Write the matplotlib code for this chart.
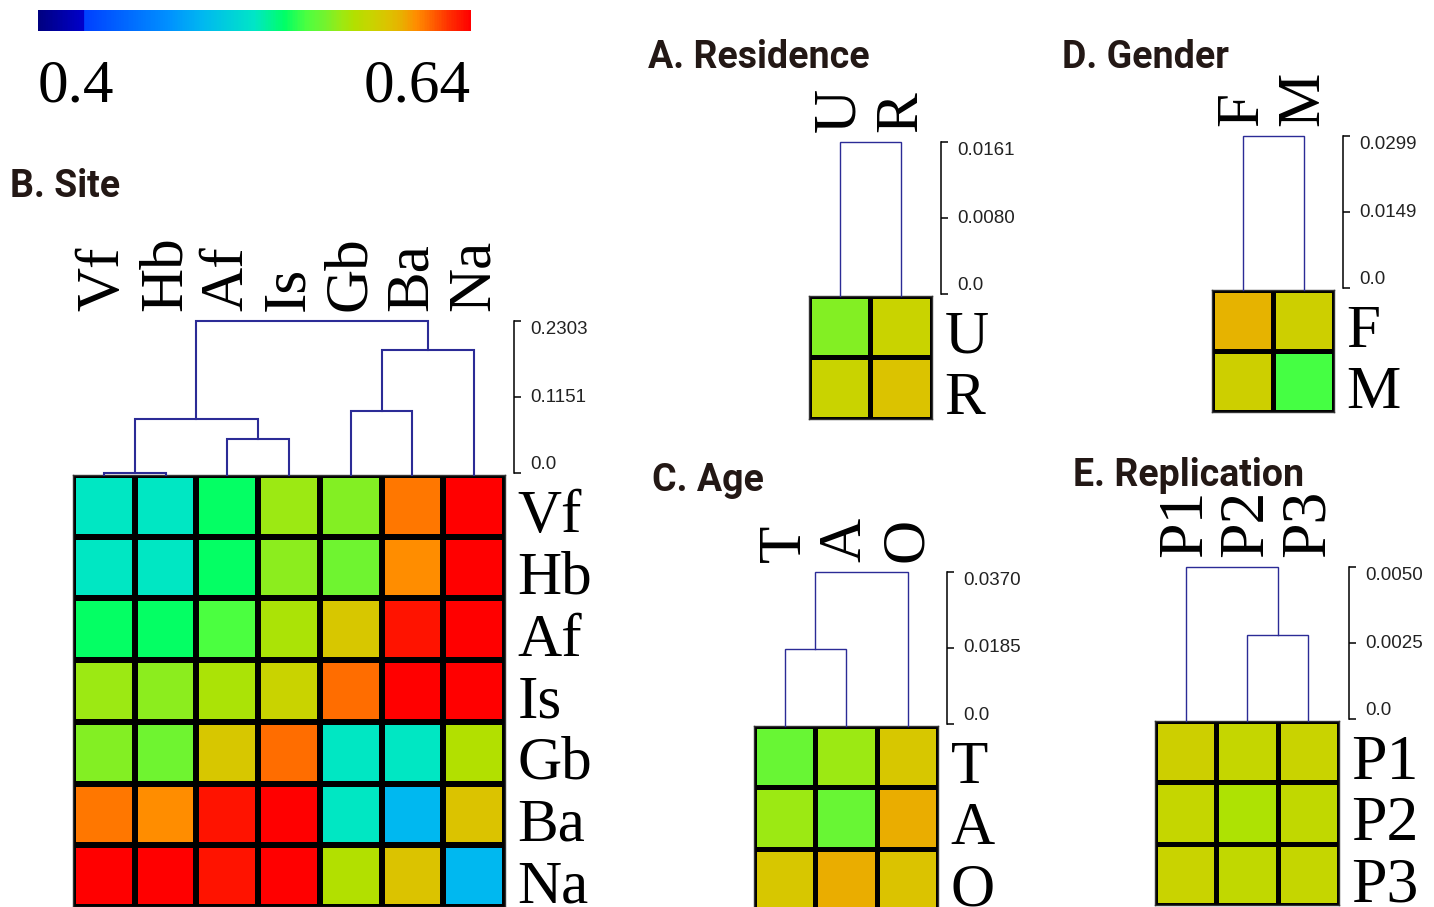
"""
Similarity heatmaps with dendrograms (site, residence, gender, age, replication)
"""

import numpy as np
import matplotlib
matplotlib.use("Agg")
import matplotlib.pyplot as plt
from matplotlib.colors import LinearSegmentedColormap, Normalize
from matplotlib.cm import ScalarMappable
from matplotlib.transforms import ScaledTranslation

W, H = 1434, 907

# ---- data ----
site_labels = ["Vf", "Hb", "Af", "Is", "Gb", "Ba", "Na"]
site_values = [
    [0.520, 0.520, 0.537, 0.568, 0.563, 0.614, 0.640],
    [0.520, 0.520, 0.537, 0.565, 0.558, 0.610, 0.640],
    [0.537, 0.537, 0.549, 0.573, 0.592, 0.635, 0.640],
    [0.568, 0.565, 0.573, 0.585, 0.616, 0.640, 0.640],
    [0.563, 0.558, 0.592, 0.616, 0.520, 0.520, 0.575],
    [0.614, 0.610, 0.635, 0.640, 0.520, 0.491, 0.594],
    [0.640, 0.640, 0.635, 0.640, 0.575, 0.594, 0.491],
]
# merges: (node a, node b, height); leaves are 0..n-1, new nodes numbered after
site_merges = [(0, 1, 0.0035), (2, 3, 0.0538), (7, 8, 0.0843),
               (4, 5, 0.0961), (10, 6, 0.1876), (9, 11, 0.2303)]
site_ticks = [0.0, 0.1151, 0.2303]
site_ticklabels = ["0.0", "0.1151", "0.2303"]

res_labels = ["U", "R"]
res_values = [[0.563, 0.585],
              [0.585, 0.594]]
res_merges = [(0, 1, 0.0161)]
res_ticks = [0.0, 0.0080, 0.0161]
res_ticklabels = ["0.0", "0.0080", "0.0161"]

gen_labels = ["F", "M"]
gen_values = [[0.600, 0.587],
              [0.587, 0.548]]
gen_merges = [(0, 1, 0.0299)]
gen_ticks = [0.0, 0.0149, 0.0299]
gen_ticklabels = ["0.0", "0.0149", "0.0299"]

age_labels = ["T", "A", "O"]
age_values = [[0.556, 0.568, 0.592],
              [0.568, 0.556, 0.602],
              [0.592, 0.602, 0.594]]
age_merges = [(0, 1, 0.0185), (3, 2, 0.0370)]
age_ticks = [0.0, 0.0185, 0.0370]
age_ticklabels = ["0.0", "0.0185", "0.0370"]

rep_labels = ["P1", "P2", "P3"]
rep_values = [[0.587, 0.583, 0.585],
              [0.583, 0.574, 0.581],
              [0.585, 0.581, 0.583]]
rep_merges = [(1, 2, 0.00278), (0, 3, 0.0050)]
rep_ticks = [0.0, 0.0025, 0.0050]
rep_ticklabels = ["0.0", "0.0025", "0.0050"]

vmin, vmax = 0.4, 0.64

# ---- colour scale ----
stops = [(0.0, "#000080"), (0.105, "#0000cc"), (0.106, "#0040ff"),
         (0.30, "#0090ff"), (0.38, "#00b8f0"), (0.50, "#00e6c6"),
         (0.57, "#00ff66"), (0.62, "#4cff40"), (0.66, "#70f430"),
         (0.70, "#9aea14"), (0.73, "#b2e000"), (0.77, "#c8d400"),
         (0.81, "#dcc200"), (0.84, "#e8b000"), (0.875, "#ff8c00"),
         (0.90, "#ff7000"), (0.95, "#ff3000"), (1.0, "#ff0000")]
cmap = LinearSegmentedColormap.from_list("sim", stops)
norm = Normalize(vmin, vmax)

fig = plt.figure(figsize=(W / 100, H / 100), dpi=100)

SERIF = "Liberation Serif"
SANS = "Liberation Sans"
TITLE_FONT = "Roboto"
LINE_C = "#2b2b96"


def add_px(x0, y0, x1, y1):
    return fig.add_axes([x0 / W, 1 - y1 / H, (x1 - x0) / W, (y1 - y0) / H])


def panel(labels, values, merges, ticks, ticklabels, hx, hy, cell, dtop, bx,
          lw_grid=2.5, lw_tree=1.0, label_size=44):
    n = len(labels)
    # heatmap
    ax = add_px(hx, hy, hx + n * cell, hy + n * cell)
    ax.pcolormesh(np.array(values), cmap=cmap, norm=norm,
                  edgecolors="k", linewidth=lw_grid)
    ax.set_xlim(0, n)
    ax.set_ylim(n, 0)
    ax.set_xticks([])
    ax.yaxis.tick_right()
    ax.set_yticks(np.arange(n) + 0.5)
    ax.set_yticklabels(labels, family=SERIF, fontsize=label_size)
    ax.tick_params(axis="y", length=0, pad=9)
    down = ScaledTranslation(0, -5 / 100, fig.dpi_scale_trans)
    for t in ax.yaxis.get_major_ticks():
        t.label2.set_transform(t.label2.get_transform() + down)
    for s in ax.spines.values():
        s.set_linewidth(1.0)
        s.set_color("#333333")

    # dendrogram
    dx = add_px(hx, dtop, hx + n * cell, hy)
    pos = {i: (i + 0.5, 0.0) for i in range(n)}
    k = n
    for a, b, h in merges:
        xa, ha = pos[a]
        xb, hb = pos[b]
        dx.plot([xa, xa, xb, xb], [ha, h, h, hb], color=LINE_C, lw=lw_tree,
                solid_joinstyle="miter", clip_on=False)
        pos[k] = ((xa + xb) / 2, h)
        k += 1
    dx.set_xlim(0, n)
    dx.set_ylim(0, ticks[-1])
    dx.xaxis.tick_top()
    dx.set_xticks(np.arange(n) + 0.5)
    dx.set_xticklabels(labels, family=SERIF, fontsize=label_size, rotation=90)
    dx.tick_params(axis="x", length=0, pad=7)
    dx.set_yticks([])
    for s in dx.spines.values():
        s.set_visible(False)
    dx.patch.set_alpha(0)

    # scale bracket
    sx = add_px(bx, dtop, bx + 1, hy - 2)
    sx.set_ylim(0, ticks[-1])
    sx.set_xticks([])
    sx.set_yticks(ticks)
    sx.set_yticklabels(ticklabels, family=SANS, fontsize=13.5, color="#222222")
    sx.tick_params(axis="y", left=True, right=False, labelleft=False,
                   labelright=True, direction="in", length=5, width=1.1, pad=11)
    labs = [t.label2 for t in sx.yaxis.get_major_ticks()]
    labs[0].set_va("bottom")
    labs[1].set_va("center")
    labs[-1].set_va("top")
    for name, s in sx.spines.items():
        s.set_visible(name == "left")
    sx.spines["left"].set_linewidth(1.1)
    sx.patch.set_alpha(0)


panel(site_labels, site_values, site_merges, site_ticks, site_ticklabels,
      73, 475, 61.7, 321, 514, lw_grid=3.0, lw_tree=1.5)
panel(res_labels, res_values, res_merges, res_ticks, res_ticklabels,
      809, 296, 61.4, 142, 941)
panel(gen_labels, gen_values, gen_merges, gen_ticks, gen_ticklabels,
      1212, 290, 61.0, 136, 1343)
panel(age_labels, age_values, age_merges, age_ticks, age_ticklabels,
      754, 726, 61.4, 572, 947)
panel(rep_labels, rep_values, rep_merges, rep_ticks, rep_ticklabels,
      1155, 721, 61.3, 567, 1349, label_size=46)

# panel titles
titles = [("A. Residence", 648, 68), ("B. Site", 10, 197), ("C. Age", 652, 491),
          ("D. Gender", 1062, 68), ("E. Replication", 1073, 486)]
for txt, x, y in titles:
    fig.text(x / W, 1 - y / H, txt, family=TITLE_FONT, weight="bold",
             fontsize=27, color="#231815", ha="left", va="baseline")

# colour bar
cax = add_px(38, 10, 471, 31)
cb = fig.colorbar(ScalarMappable(norm=norm, cmap=cmap), cax=cax,
                  orientation="horizontal")
cb.outline.set_visible(False)
cb.set_ticks([vmin, vmax])
cb.set_ticklabels(["0.4", "0.64"])
cax.tick_params(length=0, pad=20)
for lab in cax.get_xticklabels():
    lab.set_family(SERIF)
    lab.set_fontsize(44)
tl = cax.get_xticklabels()
tl[0].set_ha("left")
tl[1].set_ha("right")

plt.savefig("out.png", dpi=100)
